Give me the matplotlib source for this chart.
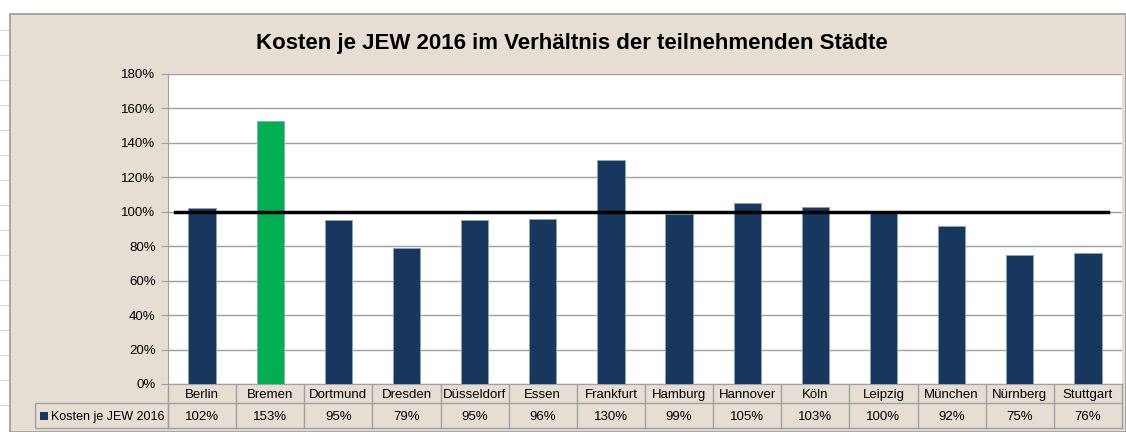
import matplotlib.pyplot as plt
from matplotlib.patches import Rectangle
from matplotlib.transforms import blended_transform_factory

staedte = ["Berlin", "Bremen", "Dortmund", "Dresden", "Düsseldorf", "Essen", "Frankfurt",
           "Hamburg", "Hannover", "Köln", "Leipzig", "München", "Nürnberg", "Stuttgart"]
kosten = [102, 153, 95, 79, 95, 96, 130, 99, 105, 103, 100, 92, 75, 76]
serie = "Kosten je JEW 2016"
referenz = 100

W, H = 1126, 432
navy = "#17375E"
gruen = "#00B050"
beige = "#E6DED3"
grau = "#A0A0A0"

plt.rcParams['font.family'] = ['Liberation Sans', 'DejaVu Sans']

fig = plt.figure(figsize=(W / 100, H / 100), dpi=100)
fig.patch.set_facecolor("white")

def fx(px):
    return px / W

def fy(py):
    return 1 - py / H

# spreadsheet look on the left
for yy in [30, 55, 80, 105, 130, 155, 180, 205, 230, 255, 280, 305, 330, 355, 380, 405]:
    fig.add_artist(plt.Line2D([0, fx(10)], [fy(yy), fy(yy)], color="#D8D8D8", lw=0.8, zorder=-10))

# chart area
fig.add_artist(Rectangle((fx(10), 0), 1 - fx(10), fy(14), facecolor=beige,
                         edgecolor="#9A9A9A", lw=1.2, transform=fig.transFigure, zorder=-10))

ax = fig.add_axes([fx(168), fy(384), fx(1122) - fx(168), fy(74) - fy(384)])
ax.set_facecolor("white")

x = list(range(len(staedte)))
farben = [gruen if s == "Bremen" else navy for s in staedte]
ax.bar(x, kosten, width=0.4, color=farben, edgecolor="#8EA3BE", linewidth=0.6, zorder=3)
ax.plot([-0.4, len(staedte) - 0.7], [referenz, referenz], color="black", lw=2.5, zorder=4)

ax.set_xlim(-0.5, len(staedte) - 0.5)
ax.set_ylim(0, 180)
ax.set_yticks(range(0, 181, 20))
ax.set_yticklabels([f"{v}%" for v in range(0, 181, 20)], fontsize=9.5)
ax.yaxis.grid(True, color=grau, lw=1)
ax.set_axisbelow(True)
ax.tick_params(axis="y", length=5, color=grau, pad=4)
ax.set_xticks([])
for sp in ["top", "right"]:
    ax.spines[sp].set_visible(False)
ax.spines["left"].set_color(grau)
ax.spines["bottom"].set_color(grau)

# data table below the axis
tr = blended_transform_factory(ax.transData, fig.transFigure)
y0, y1, y2 = fy(384), fy(403), fy(428)
for i in range(len(staedte) + 1):
    xi = i - 0.5
    fig.add_artist(plt.Line2D([xi, xi], [y2, y0], color=grau, lw=1, transform=tr))
for yy in [y1, y2]:
    fig.add_artist(plt.Line2D([-0.5, len(staedte) - 0.5], [yy, yy], color=grau, lw=1, transform=tr))
for i, (s, v) in enumerate(zip(staedte, kosten)):
    fig.text(i, (y0 + y1) / 2, s, transform=tr, ha="center", va="center_baseline", fontsize=9.5)
    fig.text(i, (y1 + y2) / 2, f"{v}%", transform=tr, ha="center", va="center_baseline", fontsize=9.5)

# legend cell
fig.add_artist(Rectangle((fx(35), y2), fx(168) - fx(35), y1 - y2, facecolor="none",
                         edgecolor=grau, lw=1, transform=fig.transFigure))
fig.add_artist(Rectangle((fx(40), fy(420)), fx(8), fy(412) - fy(420), facecolor=navy,
                         edgecolor="none", transform=fig.transFigure))
fig.text(fx(51), (y1 + y2) / 2, serie, ha="left", va="center_baseline", fontsize=9)

fig.text(fx(572), fy(44), "Kosten je JEW 2016 im Verhältnis der teilnehmenden Städte",
         ha="center", va="center", fontsize=16, fontweight="bold")

fig.savefig("out.png", dpi=100, facecolor=fig.get_facecolor())
